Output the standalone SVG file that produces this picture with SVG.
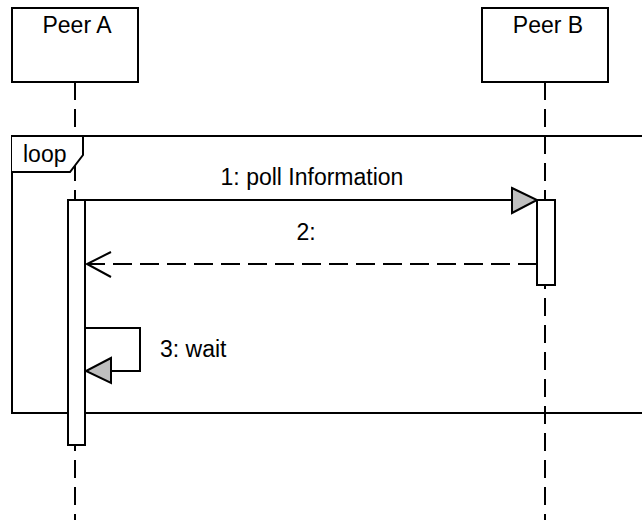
<svg xmlns="http://www.w3.org/2000/svg" width="642" height="520" viewBox="0 0 642 520">
<style>
.box{fill:#fff;stroke:#000;stroke-width:2}
.life{fill:none;stroke:#000;stroke-width:2;stroke-dasharray:18,9}
.msg{fill:none;stroke:#000;stroke-width:2}
.dash{fill:none;stroke:#000;stroke-width:2;stroke-dasharray:19,8}
.head{fill:#bfbfbf;stroke:#000;stroke-width:2;stroke-linejoin:miter}
text{font-family:"Liberation Sans",Arial,sans-serif;font-size:23px;fill:#000}
</style>
<rect width="642" height="520" fill="#fff"/>
<g id="lifelines">
<line class="life" x1="75" y1="82" x2="75" y2="520"/>
<line class="life" x1="545" y1="82" x2="545" y2="520"/>
</g>
<g id="loop-frame">
<rect x="12" y="136" width="640" height="277" fill="none" stroke="#000" stroke-width="2"/>
<path d="M12,136 H83 V155 L70,172 H12" fill="#fff" stroke="#000" stroke-width="2"/>
<text x="23" y="162">loop</text>
</g>
<g id="peerA">
<rect class="box" x="12" y="8" width="126" height="74"/>
<text x="77" y="33" text-anchor="middle">Peer A</text>
</g>
<g id="peerB">
<rect class="box" x="482" y="8" width="126" height="74"/>
<text x="548" y="33" text-anchor="middle">Peer B</text>
</g>
<g id="activationA">
<rect class="box" x="68" y="200" width="17" height="245"/>
</g>
<g id="activationB">
<rect class="box" x="537" y="200" width="18" height="85"/>
</g>
<g id="connectors">
<line class="msg" x1="85" y1="200" x2="512" y2="200"/>
<polygon class="head" points="512,188 537,200 512,213"/>
<text x="312" y="185" text-anchor="middle">1: poll Information</text>
<line class="dash" x1="537" y1="264" x2="87" y2="264"/>
<polyline class="msg" points="111,252 87,264 111,277"/>
<text x="306" y="240" text-anchor="middle">2:</text>
<polyline class="msg" points="85,328 140,328 140,371 111,371"/>
<polygon class="head" points="111,358 86,371 111,383"/>
<text x="160" y="357">3: wait</text>
</g>
</svg>
